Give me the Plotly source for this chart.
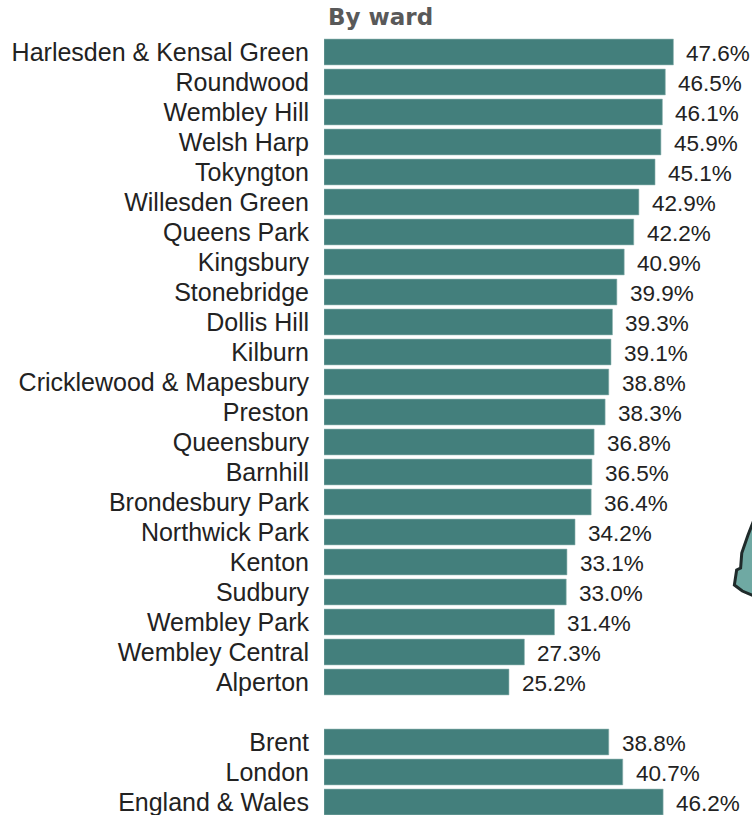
import plotly.graph_objects as go

wards = ["Harlesden & Kensal Green", "Roundwood", "Wembley Hill", "Welsh Harp", "Tokyngton",
         "Willesden Green", "Queens Park", "Kingsbury", "Stonebridge", "Dollis Hill", "Kilburn",
         "Cricklewood & Mapesbury", "Preston", "Queensbury", "Barnhill", "Brondesbury Park",
         "Northwick Park", "Kenton", "Sudbury", "Wembley Park", "Wembley Central", "Alperton"]
ward_values = [47.6, 46.5, 46.1, 45.9, 45.1, 42.9, 42.2, 40.9, 39.9, 39.3, 39.1,
               38.8, 38.3, 36.8, 36.5, 36.4, 34.2, 33.1, 33.0, 31.4, 27.3, 25.2]
areas = ["Brent", "London", "England & Wales"]
area_values = [38.8, 40.7, 46.2]

WIDTH, HEIGHT = 752, 815
LEFT = 324
PX_PER_UNIT = 7.34
ROW = 30.0
FIRST_CENTER = 52.0
BAR = "#437F7C"
FONT = "Liberation Sans"

labels = wards + [" "] + areas
values = ward_values + [None] + area_values
y_pos = list(range(len(labels)))

fig = go.Figure(go.Bar(
    x=values, y=y_pos, orientation="h", width=0.86,
    marker=dict(color=BAR, line=dict(color="#8FB3B0", width=0.6)),
    hoverinfo="skip",
))

for y, v in zip(y_pos, values):
    if v is None:
        continue
    fig.add_annotation(x=v, y=y, yshift=-1, text=f"{v:.1f}%", showarrow=False, xanchor="left",
                       xshift=11, font=dict(family=FONT, size=22.5, color="#222222"))

fig.add_annotation(xref="paper", yref="paper", x=0.0, y=1 - 17.5 / HEIGHT, xshift=1.5,
                   text="<b>By ward</b>", showarrow=False, xanchor="left", yanchor="middle",
                   font=dict(family="DejaVu Sans", size=23, color="#595959"))

# Edge of the neighbouring map inset that is cut off at the right of the picture
inset_edge = [(756, 519), (745, 535), (734, 553), (732, 568), (725, 570),
              (721, 585), (735, 591), (756, 596)]
inset_path = " ".join(("M" if i == 0 else "L") + f" {px / WIDTH:.4f} {1 - py / HEIGHT:.4f}"
                      for i, (px, py) in enumerate(inset_edge)) + " Z"
fig.add_shape(type="path", xref="paper", yref="paper", layer="above", path=inset_path,
              fillcolor="#6FA9A3", line=dict(color="#1F2A2A", width=3))

fig.update_layout(
    width=WIDTH, height=HEIGHT,
    margin=dict(l=LEFT, r=0, t=0, b=0, pad=0),
    paper_bgcolor="white", plot_bgcolor="white",
    showlegend=False,
    xaxis=dict(range=[0, (WIDTH - LEFT) / PX_PER_UNIT], visible=False, fixedrange=True),
    yaxis=dict(range=[(HEIGHT - FIRST_CENTER) / ROW, -FIRST_CENTER / ROW],
               tickmode="array", tickvals=y_pos, ticktext=labels,
               ticks="", showline=False, showgrid=False, zeroline=False, ticklabelstandoff=14,
               ticklabeloverflow="allow",
               tickfont=dict(family=FONT, size=25, color="#222222"), fixedrange=True),
)

fig.write_html("out.html", config={"displayModeBar": False},
               post_script="document.body.style.margin='0';")
